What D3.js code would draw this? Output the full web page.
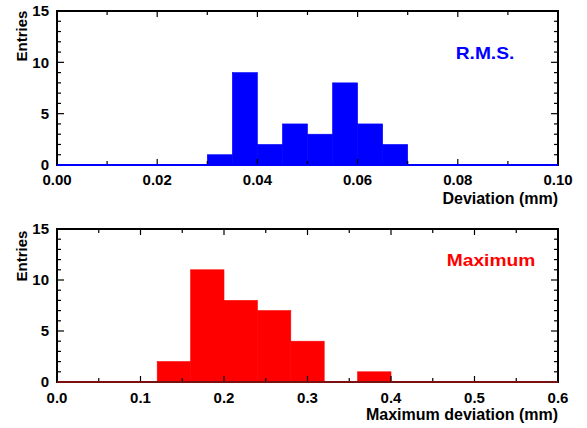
<!DOCTYPE html>
<html>
<head>
<meta charset="utf-8">
<script src="https://cdn.jsdelivr.net/npm/d3@7"></script>
<style>
  body { margin: 0; background: #fff; }
  text { font-family: "Liberation Sans", Arial, sans-serif; font-weight: bold; }
</style>
</head>
<body>
<div id="chart"></div>
<script>
// histogram of R.M.S. deviation, bins of 0.005 mm
var rmsBins = [0.030, 0.035, 0.040, 0.045, 0.050, 0.055, 0.060, 0.065];
var rmsCounts = [1, 9, 2, 4, 3, 8, 4, 2];
var rmsTicks = [0.00, 0.02, 0.04, 0.06, 0.08, 0.10];

// histogram of maximum deviation, bins of 0.04 mm
var maxBins = [0.12, 0.16, 0.20, 0.24, 0.28, 0.32, 0.36];
var maxCounts = [2, 11, 8, 7, 4, 0, 1];
var maxTicks = [0.0, 0.1, 0.2, 0.3, 0.4, 0.5, 0.6];

var yTicks = [0, 5, 10, 15];

var svg = d3.select("#chart").append("svg")
  .attr("width", 587)
  .attr("height", 428);

function panel(opts) {
  var g = svg.append("g").attr("transform", "translate(" + opts.left + "," + opts.top + ")");
  var w = opts.width, h = opts.height;

  var x = d3.scaleLinear().domain(opts.xDomain).range([0, w]);
  var y = d3.scaleLinear().domain([0, 15]).range([h, 0]);

  // bars
  var bins = opts.bins.map(function(b, i) { return {x0: b, x1: b + opts.binWidth, n: opts.counts[i]}; });
  g.selectAll("rect.bar")
    .data(bins.filter(function(d) { return d.n > 0; }))
    .enter().append("rect")
      .attr("class", "bar")
      .attr("x", function(d) { return x(d.x0); })
      .attr("width", function(d) { return x(d.x1) - x(d.x0); })
      .attr("y", function(d) { return y(d.n); })
      .attr("height", function(d) { return y(0) - y(d.n); })
      .attr("fill", opts.color)
      .attr("stroke", opts.color)
      .attr("stroke-width", 0.6);

  // ticks: inward on all four sides
  var xMinor = d3.range(opts.xDomain[0], opts.xDomain[1] + 1e-9, opts.xMinor);
  var yMinor = d3.range(0, 16, 1);

  var ax = g.append("g").attr("stroke", "#000").attr("stroke-width", 1.2);
  xMinor.forEach(function(v, i) {
    var len = (i % 2 === 0) ? 6 : 4;
    ax.append("line").attr("x1", x(v)).attr("x2", x(v)).attr("y1", h).attr("y2", h - len);
    ax.append("line").attr("x1", x(v)).attr("x2", x(v)).attr("y1", 0).attr("y2", len);
  });
  yMinor.forEach(function(v) {
    var len = (v % 5 === 0) ? 7 : 4;
    ax.append("line").attr("x1", 0).attr("x2", len).attr("y1", y(v)).attr("y2", y(v));
    ax.append("line").attr("x1", w).attr("x2", w - len).attr("y1", y(v)).attr("y2", y(v));
  });

  // frame
  g.append("rect")
    .attr("width", w).attr("height", h)
    .attr("fill", "none").attr("stroke", "#000").attr("stroke-width", 2);

  // baseline of the histogram (empty bins)
  g.append("line")
    .attr("x1", 0).attr("x2", w)
    .attr("y1", y(0)).attr("y2", y(0))
    .attr("stroke", opts.baseColor).attr("stroke-width", 2);

  // tick labels
  g.selectAll("text.xl")
    .data(opts.xTicks)
    .enter().append("text")
      .attr("x", function(d) { return x(d); })
      .attr("y", h + opts.tickDy)
      .attr("text-anchor", "middle")
      .attr("font-size", 15)
      .text(function(d) { return d3.format(opts.fmt)(d); });

  g.selectAll("text.yl")
    .data(yTicks)
    .enter().append("text")
      .attr("x", -8)
      .attr("y", function(d) { return y(d) + 5.3; })
      .attr("text-anchor", "end")
      .attr("font-size", 15)
      .text(function(d) { return d; });

  g.append("text")
    .attr("transform", "translate(-30," + opts.entriesY + ") rotate(-90)")
    .attr("text-anchor", "middle")
    .attr("font-size", 15)
    .text("Entries");

  g.append("text")
    .attr("x", w)
    .attr("y", h + opts.labelDy)
    .attr("text-anchor", "end")
    .attr("font-size", 16)
    .text(opts.xLabel);

  // series tag, set a bit wide like the original
  g.append("text")
    .attr("transform", "translate(" + opts.tagX + "," + opts.tagY + ") scale(1.2,1)")
    .attr("text-anchor", "middle")
    .attr("font-size", 16)
    .attr("fill", opts.color)
    .text(opts.tag);
}

panel({
  left: 57, top: 11, width: 501, height: 154,
  xDomain: [0, 0.1], xMinor: 0.01, xTicks: rmsTicks, fmt: ".2f",
  bins: rmsBins, counts: rmsCounts, binWidth: 0.005,
  color: "#0000ff", baseColor: "#0000ff",
  tickDy: 19.5, labelDy: 38.5,
  xLabel: "Deviation (mm)", tag: "R.M.S.", tagX: 428, tagY: 48, entriesY: 25
});

panel({
  left: 57, top: 229, width: 501, height: 153,
  xDomain: [0, 0.6], xMinor: 0.05, xTicks: maxTicks, fmt: ".1f",
  bins: maxBins, counts: maxCounts, binWidth: 0.04,
  color: "#ff0000", baseColor: "#7a1010",
  tickDy: 20.5, labelDy: 37.5,
  xLabel: "Maximum deviation (mm)", tag: "Maximum", tagX: 434, tagY: 37, entriesY: 27
});
</script>
</body>
</html>
